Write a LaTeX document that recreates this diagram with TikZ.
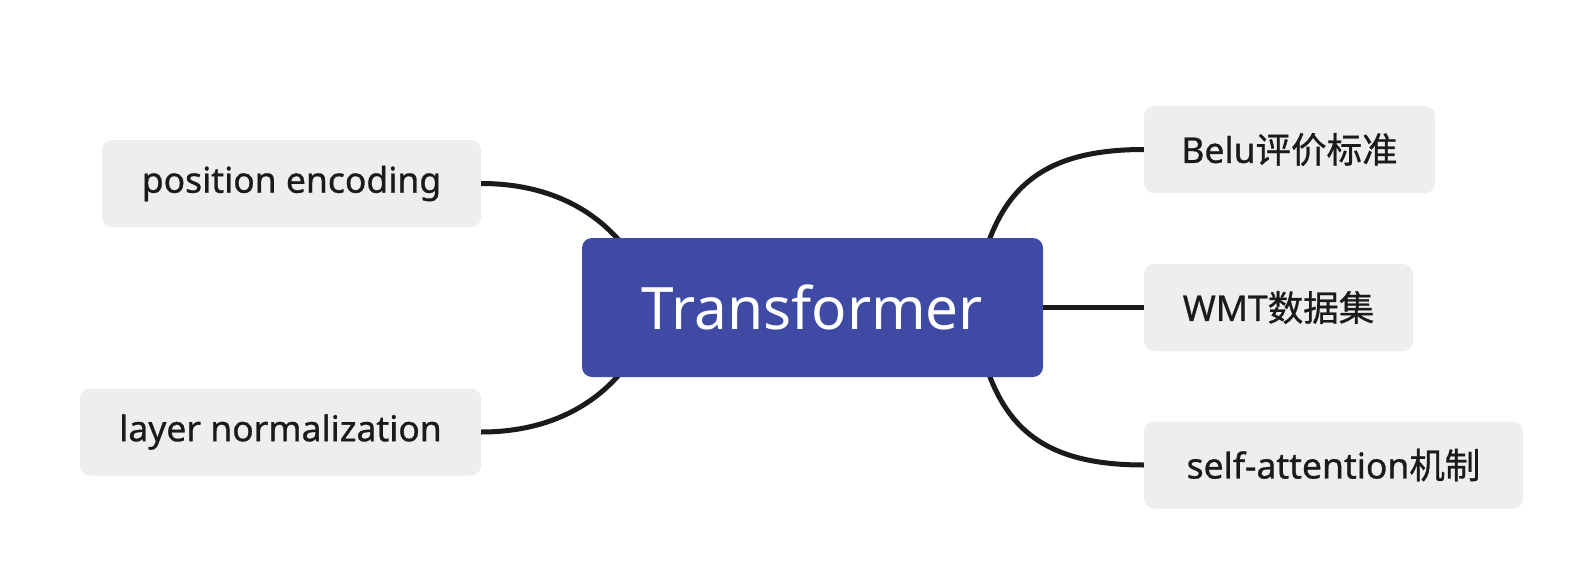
\documentclass[tikz,border=0pt]{standalone}
\usepackage{fontspec}
\setmainfont{Noto Sans}
\newfontfamily\leaf{Noto Sans}[FakeBold=0.8]
\newfontfamily\cjk{Noto Sans CJK SC}[FakeBold=0.8]
\definecolor{rootblue}{HTML}{3E4AA4}
\definecolor{leafgray}{HTML}{EEEEEE}
\definecolor{linedark}{HTML}{1A1A1A}
\tikzset{
  topic/.style={fill=rootblue, rounded corners=10pt, text=white, minimum width=461pt,
    minimum height=139pt, font=\fontsize{58.5}{64}\selectfont, inner sep=0pt},
  subtopic/.style={fill=leafgray, rounded corners=10pt, text=linedark, minimum height=87pt,
    font=\leaf\fontsize{35.5}{40}\selectfont, inner sep=0pt},
  branch/.style={draw=linedark, line width=5pt}
}
\begin{document}
\begin{tikzpicture}[x=1pt, y=-1pt]
	\useasboundingbox (0,0) rectangle (1582,586);

	% Sub topics
	\node[subtopic, minimum width=379pt] (posenc) at (291.5,183.5) {position encoding};
	\node[subtopic, minimum width=401pt] (layernorm) at (280.5,432) {layer normalization};
	\node[subtopic, minimum width=291pt] (belu) at (1289.5,149.5) {Belu{\cjk 评价标准}};
	\node[subtopic, minimum width=269pt] (wmt) at (1278.5,307.5) {WMT{\cjk 数据集}};
	\node[subtopic, minimum width=379pt] (selfatt) at (1333.5,465) {self-attention{\cjk 机制}};

	% Hidden start points inside the root
	\coordinate (ul) at (650,290);
	\coordinate (ll) at (650,325);
	\coordinate (ur) at (980,270);
	\coordinate (lr) at (980,345);

	% Branches
	\draw[branch] (ul) .. controls (620,220) and (560,183.5) .. (posenc.east);
	\draw[branch] (ll) .. controls (620,395) and (560,432) .. (layernorm.east);
	\draw[branch] (ur) .. controls (1000,190) and (1040,149.5) .. (belu.west);
	\draw[branch] (lr) .. controls (1000,425) and (1040,465) .. (selfatt.west);
	\draw[branch] (1000,307.5) -- (wmt.west);

	% Root topic
	\node[topic] (root) at (812.5,307.5) {Transformer};
\end{tikzpicture}
\end{document}
